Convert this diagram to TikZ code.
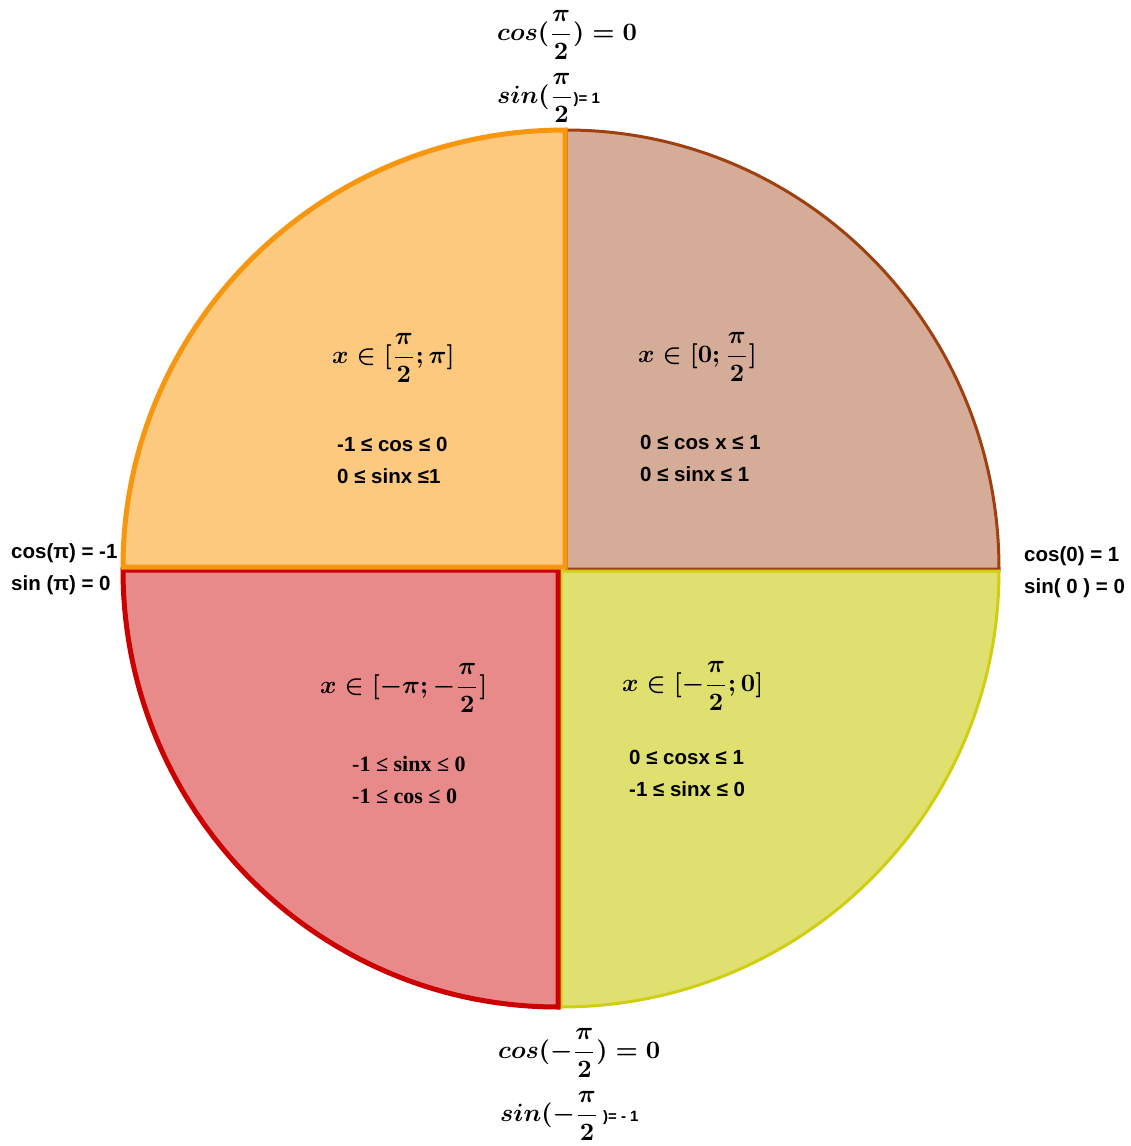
\documentclass[tikz,border=0pt]{standalone}
\usepackage{amsmath}
\usepackage{fontspec}
\setsansfont{Liberation Sans}
\newfontfamily\serifbold{Liberation Serif}
\definecolor{orfill}{HTML}{FDC97E}
\definecolor{ordraw}{HTML}{F7960F}
\definecolor{brfill}{HTML}{D5AC97}
\definecolor{brdraw}{HTML}{A04010}
\definecolor{yefill}{HTML}{E0E070}
\definecolor{yedraw}{HTML}{CFCF10}
\definecolor{refill}{HTML}{E88A8A}
\definecolor{redraw}{HTML}{CC0000}
\newcommand\mth[1]{\scalebox{2.5}{\boldmath$\displaystyle #1$}}
\begin{document}
\begin{tikzpicture}[x=1pt,y=-1pt,
  sanslab/.style={font={\sffamily\bfseries\fontsize{20.5}{23}\selectfont},inner sep=0pt},
  seriflab/.style={font={\serifbold\bfseries\fontsize{22}{25}\selectfont},inner sep=0pt},
  mathlab/.style={inner sep=0pt,anchor=west}]
\useasboundingbox[fill=white] (0,0) rectangle (1131,1146);
% quadrants
\filldraw[fill=brfill,draw=brdraw,line width=3pt] (566,569) -- ++(0,-439)
  arc[start angle=-90,end angle=0,x radius=433,y radius=439] -- cycle;
\filldraw[fill=yefill,draw=yedraw,line width=3pt] (561,571) -- ++(438,0)
  arc[start angle=0,end angle=90,x radius=438,y radius=436] -- cycle;
\filldraw[fill=refill,draw=redraw,line width=5pt] (558,570) -- ++(0,437)
  arc[start angle=90,end angle=180,x radius=435,y radius=437] -- cycle;
\filldraw[fill=orfill,draw=ordraw,line width=5pt] (565,567) -- ++(0,-437)
  arc[start angle=-90,end angle=-180,x radius=442,y radius=437] -- cycle;
% axis labels
\node[mathlab] (topcos) at (497,35) {\mth{cos(\frac{\pi}{2}) = 0}};
\node[mathlab] (topsin) at (497,98) {\mth{sin(\frac{\pi}{2}}{\sffamily\bfseries\fontsize{15}{18}\selectfont)= 1}};
\node[sanslab,anchor=base west] (leftcos) at (11,558) {cos(π) = -1};
\node[sanslab,anchor=base west] (leftsin) at (11,590) {sin (π) = 0};
\node[sanslab,anchor=base west] (rightcos) at (1024,561) {cos(0) = 1};
\node[sanslab,anchor=base west] (rightsin) at (1024,593) {sin( 0 ) = 0};
\node[mathlab] (botcos) at (498,1053) {\mth{cos(-\frac{\pi}{2}) = 0}};
\node[mathlab] (botsin) at (500,1116) {\mth{sin(-\frac{\pi}{2}}{\sffamily\bfseries\fontsize{15}{18}\selectfont\ )= - 1}};
% quadrant labels
\node[mathlab] (tlx) at (332,358) {\mth{x\in[\frac{\pi}{2};\pi]}};
\node[sanslab,anchor=base west] (tl1) at (337,451) {-1 ≤ cos ≤ 0};
\node[sanslab,anchor=base west] (tl2) at (337,483) {0 ≤ sinx ≤1};
\node[mathlab] (trx) at (638,357) {\mth{x\in[0;\frac{\pi}{2}]}};
\node[sanslab,anchor=base west] (tr1) at (640,449) {0 ≤ cos x ≤ 1};
\node[sanslab,anchor=base west] (tr2) at (640,481) {0 ≤ sinx ≤ 1};
\node[mathlab] (blx) at (320,688) {\mth{x\in[-\pi;-\frac{\pi}{2}]}};
\node[seriflab,anchor=base west] (bl1) at (352,771) {-1 ≤ sinx ≤ 0};
\node[seriflab,anchor=base west] (bl2) at (352,803) {-1 ≤ cos ≤ 0};
\node[mathlab] (brx) at (622,686) {\mth{x\in[-\frac{\pi}{2};0]}};
\node[sanslab,anchor=base west] (br1) at (629,764) {0 ≤ cosx ≤ 1};
\node[sanslab,anchor=base west] (br2) at (629,796) {-1 ≤ sinx ≤ 0};
\end{tikzpicture}
\end{document}
